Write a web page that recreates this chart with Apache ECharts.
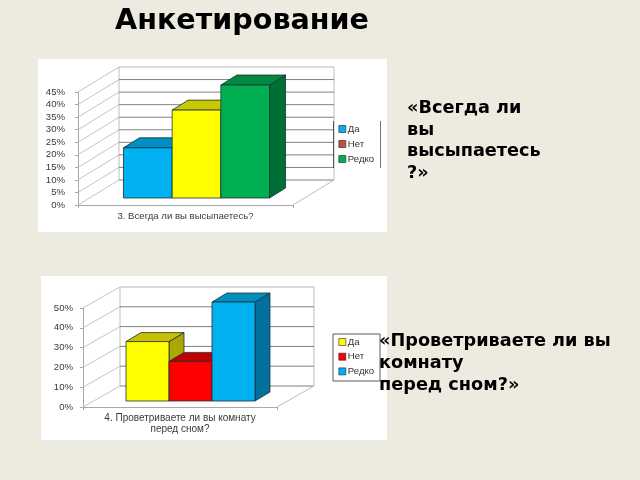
<!DOCTYPE html>
<html><head><meta charset="utf-8">
<style>html,body{margin:0;padding:0;background:#EDEBE0}#c{width:640px;height:480px}
.soft{position:absolute;backdrop-filter:blur(0.55px);-webkit-backdrop-filter:blur(0.55px);pointer-events:none}</style>
<script src="https://cdn.jsdelivr.net/npm/echarts@6/dist/echarts.min.js"></script>
</head><body><div id="c"></div>
<div class="soft" style="left:38px;top:59px;width:349px;height:173px"></div>
<div class="soft" style="left:41px;top:276px;width:337px;height:164px"></div>
<script>
const legendNames = ['Да', 'Нет', 'Редко'];
const sleepCategory = ['3. Всегда ли вы высыпаетесь?'];
const airCategory = ['4. Проветриваете ли вы комнату\nперед сном?'];
const sleepValues = [20, 35, 45];
const airValues = [30, 20, 50];
const sleepTicks = [0, 5, 10, 15, 20, 25, 30, 35, 40, 45];
const airTicks = [0, 10, 20, 30, 40, 50];
const sleepLegendColors = ['#00B0F0', '#C0504D', '#00B050'];
const airLegendColors = ['#FFFF00', '#FF0000', '#00B0F0'];
const sleepFaces = [['#00B0F0', '#008FC4', '#00709C'], ['#FFFF00', '#C8C800', '#A8A800'], ['#00B050', '#008A40', '#006F35']];
const airFaces = [['#FFFF00', '#C8C000', '#ADA800'], ['#FF0000', '#C00000', '#A00000'], ['#00B0F0', '#0090C0', '#00709C']];

const sleepGeo = { wall: [41, -25], shift: [11, -7], side: [16, -10], ratio: 0.2265 };
const airGeo = { wall: [37, -21], shift: [10.5, -6], side: [15, -9], ratio: 0.2216 };

function wallSeries(ticks, geo, idx) {
  const top = ticks[ticks.length - 1];
  return {
    type: 'custom', coordinateSystem: 'cartesian2d', xAxisIndex: idx, yAxisIndex: idx, silent: true, z: 1,
    data: ticks.map(t => [0, t]), encode: { x: 0, y: 1 },
    renderItem(params, api) {
      const v = api.value(1), g = params.coordSys;
      const y = api.coord([0, v])[1], x0 = g.x, x1 = g.x + g.width, [dx, dy] = geo.wall;
      const line = (a, b, c, d, color, w) => ({ type: 'line', shape: { x1: a, y1: b, x2: c, y2: d }, style: { stroke: color, lineWidth: w || 1, fill: null } });
      const kids = [line(x0, y, x0 + dx, y + dy, '#C4C4C4'), line(x0 + dx, y + dy, x1 + dx, y + dy, v === top ? '#B8B8B8' : '#808080')];
      if (v === 0) {
        const t = api.coord([0, top])[1];
        kids.push(line(x1, y, x1 + dx, y + dy, '#BDBDBD'));
        kids.push(line(x0 + dx, t + dy, x0 + dx, y + dy, '#BDBDBD'));
        kids.push(line(x1 + dx, t + dy, x1 + dx, y + dy, '#BDBDBD'));
      }
      return { type: 'group', children: kids };
    }
  };
}

function barSeries(name, i, value, faces, geo, idx) {
  return {
    name, type: 'custom', coordinateSystem: 'cartesian2d', xAxisIndex: idx, yAxisIndex: idx, z: 2 + i,
    itemStyle: { color: faces[0] }, data: [[0, value]], encode: { x: 0, y: 1 },
    renderItem(params, api) {
      const band = api.size([1, 0])[0], w = band * geo.ratio;
      const c = api.coord([0, 0]), t = api.coord([0, api.value(1)]);
      const l = c[0] + geo.shift[0] + (i - 1.5) * w, r = l + w;
      const b = c[1] + geo.shift[1], u = t[1] + geo.shift[1], [sx, sy] = geo.side;
      const poly = (pts, fill) => ({ type: 'polygon', shape: { points: pts }, style: { fill, stroke: '#1C3038', lineWidth: 0.8 } });
      return { type: 'group', children: [
        poly([[r, b], [r + sx, b + sy], [r + sx, u + sy], [r, u]], faces[2]),
        poly([[l, u], [r, u], [r + sx, u + sy], [l + sx, u + sy]], faces[1]),
        poly([[l, b], [r, b], [r, u], [l, u]], faces[0])
      ] };
    }
  };
}

const axisGray = '#A8A8A8', textGray = '#3A3A3A';
const xAxis = (data, idx, margin, size) => ({
  type: 'category', gridIndex: idx, data,
  axisLine: { lineStyle: { color: axisGray } }, axisTick: { show: true, lineStyle: { color: axisGray }, length: 3 },
  axisLabel: { interval: 0, fontSize: size, color: textGray, margin, fontFamily: 'Liberation Sans', lineHeight: 11 }
});
const yAxis = (max, interval, idx, margin) => ({
  type: 'value', gridIndex: idx, min: 0, max, interval,
  axisLine: { show: true, lineStyle: { color: axisGray } }, axisTick: { show: true, lineStyle: { color: axisGray }, length: 3 },
  splitLine: { show: false },
  axisLabel: { formatter: '{value}%', fontSize: 9.6, color: textGray, margin, fontFamily: 'Liberation Sans' }
});
const legend = (left, top, gap, colors) => ({
  left, top, orient: 'vertical', itemWidth: 7, itemHeight: 7, itemGap: gap, icon: 'rect', selectedMode: false, padding: 0,
  textStyle: { fontSize: 9.6, color: '#333', fontFamily: 'Liberation Sans', padding: [0, 0, 0, -3] },
  data: legendNames.map((name, i) => ({ name, itemStyle: { color: colors[i], borderColor: '#222', borderWidth: 0.6 } }))
});
const heading = (text, left, top, size, lh) => ({
  text, left, top, padding: 0, textStyle: { fontFamily: 'DejaVu Sans', fontWeight: 'bold', fontSize: size, lineHeight: lh, color: '#000' }
});
const rect = (x, y, width, height, style, z) => ({ type: 'rect', shape: { x, y, width, height }, style, z });

const chart = echarts.init(document.getElementById('c'), null, { renderer: 'canvas' });
chart.setOption({
  animation: false,
  backgroundColor: '#EDEBE0',
  title: [
    heading('Анкетирование', 115, 5, 28.6, 34),
    heading('«Всегда ли\nвы\nвысыпаетесь\n?»', 407, 97.5, 17.7, 21.6),
    heading('«Проветриваете ли вы\nкомнату\nперед сном?»', 379, 330.5, 17.7, 22)
  ],
  graphic: [
    rect(38, 59, 349, 173, { fill: '#fff' }, -10),
    rect(41, 276, 346, 164, { fill: '#fff' }, -10),
    rect(333, 121, 0.8, 47, { fill: '#333' }, 5),
    rect(380, 121, 1, 47, { fill: '#777' }, 5),
    rect(333, 334, 47, 47, { fill: '#fff', stroke: '#333', lineWidth: 0.8 }, 4)
  ],
  grid: [
    { left: 78, top: 92, width: 215, height: 113 },
    { left: 83, top: 308, width: 194, height: 99 }
  ],
  xAxis: [xAxis(sleepCategory, 0, 6, 9.6), xAxis(airCategory, 1, 6, 10)],
  yAxis: [yAxis(45, 5, 0, 13), yAxis(50, 10, 1, 10)],
  legend: [legend(338.5, 124, 5, sleepLegendColors), legend(338.5, 337, 4.7, airLegendColors)],
  series: [
    wallSeries(sleepTicks, sleepGeo, 0),
    wallSeries(airTicks, airGeo, 1),
    ...legendNames.map((n, i) => barSeries(n, i, sleepValues[i], sleepFaces[i], sleepGeo, 0)),
    ...legendNames.map((n, i) => barSeries(n, i, airValues[i], airFaces[i], airGeo, 1))
  ]
});
</script></body></html>
